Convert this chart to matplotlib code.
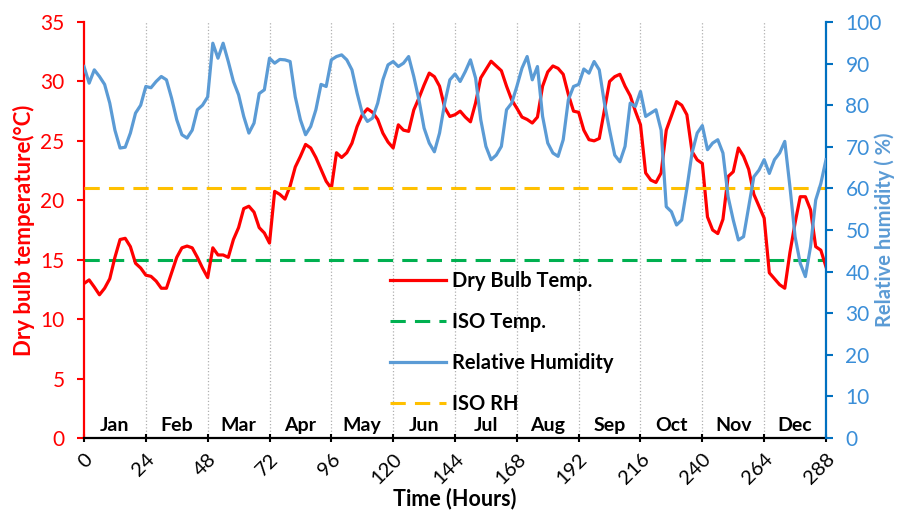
import matplotlib
matplotlib.use("Agg")
import matplotlib.pyplot as plt
import numpy as np

plt.rcParams['font.family'] = ['Lato', 'DejaVu Sans']

# Hours (every 2 h)
hours = list(range(0, 289, 2))

dry_bulb = [
    13.0, 13.3, 12.7, 12.05, 12.6, 13.4, 15.2, 16.7, 16.8, 16.1, 14.7, 14.3, 13.7,
    13.6, 13.2, 12.6, 12.6, 13.9, 15.2, 16.0, 16.15, 16.0, 15.2, 14.3, 13.5,
    16.0, 15.4, 15.4, 15.2, 16.7, 17.7, 19.3, 19.5, 19.0, 17.7, 17.25, 16.4,
    20.75, 20.5, 20.1, 21.2, 22.8, 23.7, 24.7, 24.4, 23.6, 22.6, 21.6, 21.0,
    24.0, 23.6, 24.0, 24.8, 26.2, 27.2, 27.7, 27.4, 26.8, 25.65, 24.9, 24.4,
    26.35, 25.9, 25.8, 27.6, 28.6, 29.7, 30.7, 30.4, 29.6, 27.8, 27.05, 27.2,
    27.5, 27.0, 26.6, 28.2, 30.3, 31.0, 31.7, 31.3, 30.9, 29.6, 28.45, 27.75,
    27.0, 26.8, 26.5, 27.0, 29.6, 30.8, 31.3, 31.1, 30.6, 28.9, 27.5, 27.4,
    25.9, 25.1, 25.0, 25.2, 27.6, 30.0, 30.4, 30.6, 29.6, 28.8, 27.5, 26.35,
    22.3, 21.7, 21.5, 22.3, 25.9, 27.1, 28.3, 28.0, 27.2, 24.1, 23.4, 23.1,
    18.6, 17.5, 17.2, 18.4, 22.0, 22.4, 24.4, 23.7, 22.6, 20.5, 19.5, 18.5,
    13.9, 13.4, 12.9, 12.6, 15.6, 18.1, 20.3, 20.3, 19.2, 16.1, 15.8, 14.4,
]

rel_humidity = [
    89.3, 85.3, 88.5, 86.9, 85.0, 80.5, 74.0, 69.7, 69.9, 73.3, 78.1, 80.0, 84.5,
    84.2, 85.7, 86.9, 86.1, 81.7, 76.5, 72.9, 72.1, 74.0, 78.9, 80.0, 82.0,
    94.9, 91.3, 94.9, 90.5, 85.7, 82.5, 77.3, 73.3, 75.7, 82.8, 83.7, 91.3,
    90.1, 91.0, 90.9, 90.5, 82.0, 76.5, 72.9, 74.9, 78.9, 85.0, 84.5, 90.9,
    91.7, 92.1, 90.9, 88.5, 82.9, 78.1, 76.1, 76.9, 80.5, 86.1, 89.7, 90.5,
    89.3, 90.1, 91.7, 86.9, 81.3, 74.5, 70.9, 68.8, 73.3, 80.5, 86.1, 87.5,
    85.7, 88.1, 90.9, 86.5, 76.5, 70.1, 66.9, 68.0, 70.1, 78.9, 80.5, 84.5,
    88.9, 91.7, 86.1, 89.3, 77.3, 70.9, 68.5, 67.7, 71.7, 81.3, 84.5, 85.0,
    88.7, 87.7, 90.5, 88.5, 80.5, 74.0, 68.0, 66.4, 70.1, 80.5, 79.7, 83.3,
    77.3, 78.1, 78.9, 74.0, 55.6, 54.4, 51.2, 52.4, 60.0, 68.5, 73.3, 75.1,
    69.3, 70.9, 71.7, 68.5, 58.0, 52.4, 47.6, 48.4, 55.6, 62.8, 64.4, 66.9,
    63.6, 66.9, 68.5, 71.3, 60.4, 48.4, 42.0, 38.8, 46.0, 57.2, 61.2, 66.9,
]

iso_temp = 15
iso_rh = 60

months = ['Jan', 'Feb', 'Mar', 'Apr', 'May', 'Jun', 'Jul', 'Aug', 'Sep', 'Oct', 'Nov', 'Dec']
x_ticks = list(range(0, 289, 24))
temp_ticks = list(range(0, 36, 5))
rh_ticks = list(range(0, 101, 10))

RED = '#FF0000'
BLUE = '#5B9BD5'
BLUE_AX = '#0070C0'
BLUE_TXT = '#3A8ED8'
GREEN = '#00B050'
ORANGE = '#FFC000'

fig = plt.figure(figsize=(9.01, 5.12), dpi=100)
ax = fig.add_axes([84/901, 1-438/512, (826-84)/901, (438-22)/512])
ax2 = ax.twinx()

for xt in x_ticks[1:-1]:
    ax.axvline(xt, color='#B0B0B0', ls=':', lw=0.9, zorder=0)

l1, = ax.plot(hours, dry_bulb, color=RED, lw=2.3, label='Dry Bulb Temp.', zorder=3)
l2 = ax.axhline(iso_temp, color=GREEN, lw=2.2, ls=(0, (5, 3)), label='ISO Temp.', zorder=2)
l3, = ax2.plot(hours, rel_humidity, color=BLUE, lw=2.3, label='Relative Humidity', zorder=3)
l4 = ax2.axhline(iso_rh, color=ORANGE, lw=2.2, ls=(0, (5, 3)), label='ISO RH', zorder=2)

ax.set_xlim(0, 288)
ax.set_ylim(0, 35)
ax2.set_ylim(0, 100)
ax.set_xticks(x_ticks)
ax.set_xticklabels([str(v) for v in x_ticks], rotation=45, fontsize=14.5,
                   ha='right', va='top', rotation_mode='anchor')
ax.set_yticks(temp_ticks)
ax.set_yticklabels([str(v) for v in temp_ticks], fontsize=15, color=RED)
ax2.set_yticks(rh_ticks)
ax2.set_yticklabels([str(v) for v in rh_ticks], fontsize=15, color=BLUE_TXT)

ax.tick_params(axis='y', colors=RED, length=5, width=1.5, direction='out', pad=9)
ax.tick_params(axis='x', length=6, width=1.5, direction='inout', pad=6)
ax2.tick_params(axis='y', colors=BLUE_AX, length=5, width=1.5, direction='out', pad=9)
for lab in ax2.get_yticklabels():
    lab.set_color(BLUE_TXT)

for sp in ['top']:
    ax.spines[sp].set_visible(False)
    ax2.spines[sp].set_visible(False)
ax.spines['right'].set_visible(False)
ax2.spines['left'].set_visible(False)
ax2.spines['bottom'].set_visible(False)
ax.spines['left'].set_color(RED)
ax.spines['left'].set_linewidth(1.6)
ax.spines['bottom'].set_color('black')
ax.spines['bottom'].set_linewidth(1.6)
ax2.spines['right'].set_color(BLUE_AX)
ax2.spines['right'].set_linewidth(1.6)

ax.set_ylabel('Dry bulb temperature(°C)', color=RED, fontsize=16, fontweight='bold', labelpad=4)
ax2.set_ylabel('Relative humidity ( %)', color=BLUE, fontsize=14.5, fontweight='bold',
               rotation=90, va='center', ha='center')
ax2.yaxis.set_label_coords((885 - 84) / 742, 0.5)
ax.set_xlabel('Time (Hours)', fontsize=15.5, fontweight='bold', labelpad=0)

for i, m in enumerate(months):
    ax.text(12 + 24*i, 0.35, m, ha='center', va='bottom', fontsize=14, fontweight='bold', zorder=4)

leg = ax2.legend(handles=[l1, l2, l3, l4], loc='upper left',
                 bbox_to_anchor=(390/901, 1-271/512), bbox_transform=fig.transFigure,
                 frameon=False, fontsize=14.5, handlelength=2.8, handletextpad=0.3,
                 labelspacing=1.05, borderpad=0, borderaxespad=0)
for t in leg.get_texts():
    t.set_fontweight('bold')

fig.savefig('out.png', dpi=100)
